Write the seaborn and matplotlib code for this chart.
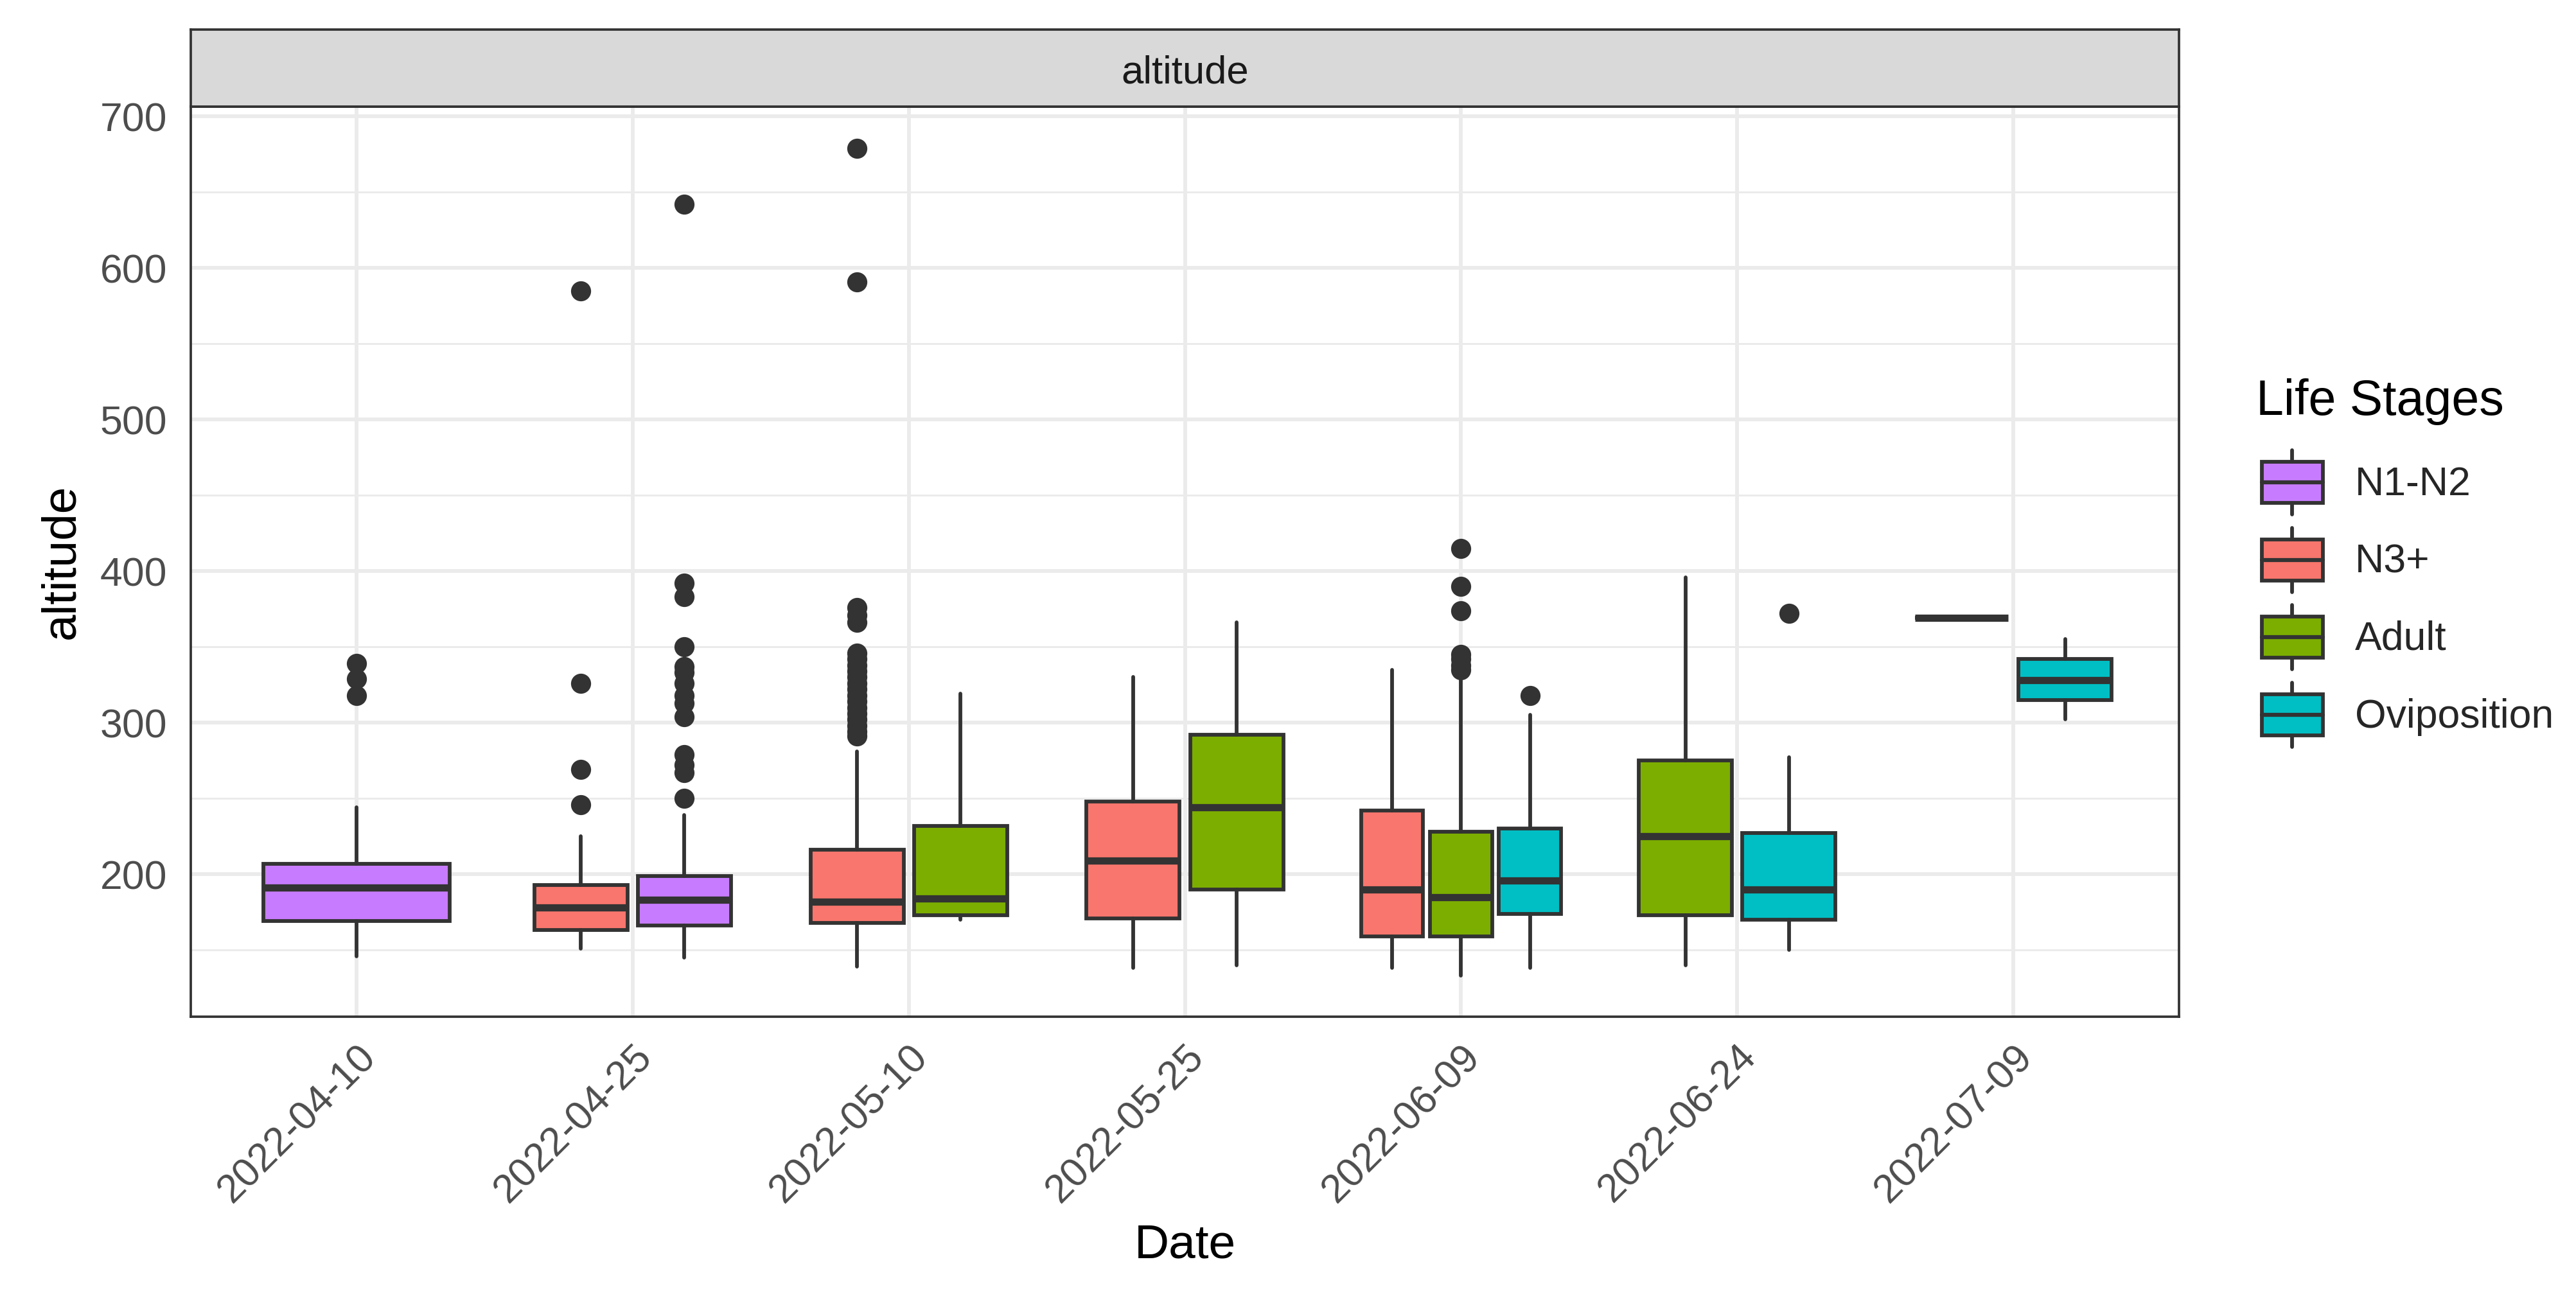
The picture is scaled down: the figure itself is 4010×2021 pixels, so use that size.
import numpy as np
import pandas as pd
import matplotlib
matplotlib.use("Agg")
import matplotlib.pyplot as plt
import matplotlib.dates as mdates
import seaborn as sns
from matplotlib.legend_handler import HandlerBase
from matplotlib.patches import Rectangle, Patch
from matplotlib.lines import Line2D

# box summaries (one entry per box, in left-to-right order)
box_date = ["2022-04-10", "2022-04-25", "2022-04-25", "2022-05-10", "2022-05-10",
            "2022-05-25", "2022-05-25", "2022-06-09", "2022-06-09", "2022-06-09",
            "2022-06-24", "2022-06-24", "2022-07-09", "2022-07-09"]
box_stage = ["N1-N2", "N3+", "N1-N2", "N3+", "Adult",
             "N3+", "Adult", "N3+", "Adult", "Oviposition",
             "Adult", "Oviposition", "Adult", "Oviposition"]
whisker_low = [146, 151, 145, 139, 170, 138, 140, 138, 133, 138, 140, 150, 369, 302]
q1 = [169, 163, 166, 168, 173, 171, 190, 159, 159, 174, 173, 170, 369, 315]
median = [191, 178, 183, 182, 184, 209, 244, 190, 185, 196, 225, 190, 369, 328]
q3 = [207, 193, 199, 216, 232, 248, 292, 242, 228, 230, 275, 227, 369, 342]
whisker_high = [244, 225, 239, 281, 319, 330, 366, 335, 329, 305, 396, 277, 369, 355]
outliers = [
    [318, 329, 339],
    [246, 269, 326, 585],
    [250, 267, 272, 279, 304, 313, 318, 326, 333, 337, 350, 383, 392, 642],
    [291, 294, 298, 302, 306, 310, 314, 318, 322, 326, 330, 334, 338, 342, 346,
     366, 371, 376, 591, 679],
    [], [], [], [],
    [335, 338, 342, 345, 374, 390, 415],
    [318],
    [],
    [372],
    [], [],
]

stage_order = ["N1-N2", "N3+", "Adult", "Oviposition"]
stage_colors = dict(zip(stage_order, sns.color_palette(["#C77CFF", "#F8766D", "#7CAE00", "#00BFC4"])))
tick_dates = ["2022-04-10", "2022-04-25", "2022-05-10", "2022-05-25",
              "2022-06-09", "2022-06-24", "2022-07-09"]

sns.set_theme(style="white")
plt.rcParams['font.family'] = ['Liberation Sans', 'DejaVu Sans']

dark = "#333333"
lw = 1.4

df = pd.DataFrame({"date": pd.to_datetime(box_date), "stage": box_stage})
df["n"] = df.groupby("date")["stage"].transform("count")
df["slot"] = df.groupby("date").cumcount()
group_w = 11.25  # days
df["pos"] = mdates.date2num(df["date"]) + (df["slot"] - (df["n"] - 1) / 2) * group_w / df["n"]
df["width"] = group_w / df["n"] * 0.9

stats = []
for i in range(len(df)):
    stats.append(dict(whislo=whisker_low[i], q1=q1[i], med=median[i], q3=q3[i],
                      whishi=whisker_high[i], fliers=outliers[i]))

W, H = 4011, 2021
fig = plt.figure(figsize=(W / 300, H / 300), dpi=300)
ax = fig.add_axes([297 / W, (H - 1583) / H, (3392 - 297) / W, (1583 - 166) / H])

bp = ax.bxp(stats, positions=df["pos"].tolist(), widths=df["width"].tolist(),
            patch_artist=True, showcaps=False, manage_ticks=False,
            boxprops=dict(edgecolor=dark, linewidth=lw),
            whiskerprops=dict(color=dark, linewidth=lw),
            medianprops=dict(color=dark, linewidth=2.7, solid_capstyle="butt"),
            flierprops=dict(marker="o", markerfacecolor=dark, markeredgecolor=dark,
                            markersize=7, markeredgewidth=0.5, linestyle="none"))
for patch, st in zip(bp["boxes"], df["stage"]):
    patch.set_facecolor(stage_colors[st])

x0 = mdates.date2num(pd.Timestamp("2022-04-10"))
ax.set_xlim(x0 - 9.0, x0 + 99.0)
ax.set_ylim(106, 706.5)

ticks = mdates.date2num(pd.to_datetime(tick_dates))
ax.set_xticks(ticks)
ax.set_xticklabels(tick_dates, rotation=45, ha="right", va="top", rotation_mode="anchor")
ax.set_yticks([200, 300, 400, 500, 600, 700])
ax.set_yticks([150, 250, 350, 450, 550, 650], minor=True)

ax.set_axisbelow(True)
ax.grid(True, which="major", color="#EBEBEB", linewidth=1.4)
ax.grid(True, which="minor", axis="y", color="#EBEBEB", linewidth=0.7)
ax.tick_params(axis="both", which="major", direction="out", length=4.3, width=1.2,
               color=dark, labelsize=15, labelcolor="#4D4D4D", pad=4.5)
ax.tick_params(axis="x", which="major", pad=3.5)
ax.tick_params(axis="both", which="minor", length=0)
for sp in ax.spines.values():
    sp.set_color(dark)
    sp.set_linewidth(0.9)

ax.set_xlabel("Date", fontsize=18, color="black", va="center")
ax.xaxis.set_label_coords(0.5, (1583 - 1939) / 1417)
ax.set_ylabel("altitude", fontsize=18, color="black", va="center")
ax.yaxis.set_label_coords((96 - 297) / 3095, 0.5)

# facet strip
sax = fig.add_axes([297 / W, (H - 166) / H, (3392 - 297) / W, (166 - 46) / H])
sax.set_facecolor("#D9D9D9")
sax.set_xticks([])
sax.set_yticks([])
for sp in sax.spines.values():
    sp.set_color(dark)
    sp.set_linewidth(0.9)
sax.text(0.5, 0.43, "altitude", ha="center", va="center", fontsize=14.8,
         color="#1A1A1A", transform=sax.transAxes)


class BoxKeyHandler(HandlerBase):
    def create_artists(self, legend, orig_handle, xdescent, ydescent, width, height,
                       fontsize, trans):
        bh = height * 0.64
        left = -xdescent
        bottom = -ydescent
        yb = bottom + (height - bh) / 2
        xm = left + width / 2
        rect = Rectangle((left, yb), width, bh, facecolor=orig_handle.get_facecolor(),
                         edgecolor=dark, linewidth=lw, transform=trans)
        w_lo = Line2D([xm, xm], [bottom, yb], color=dark, linewidth=lw, transform=trans)
        w_hi = Line2D([xm, xm], [yb + bh, bottom + height], color=dark, linewidth=lw,
                      transform=trans)
        med = Line2D([left, left + width], [yb + bh / 2] * 2, color=dark, linewidth=1.5,
                     transform=trans)
        return [w_lo, w_hi, rect, med]


handles = [Patch(facecolor=stage_colors[s]) for s in stage_order]
fig.legend(handles, stage_order, loc="upper left", bbox_to_anchor=(3521 / W, 1 - 701 / H),
           frameon=False, fontsize=15, borderpad=0, borderaxespad=0,
           handlelength=1.52, handleheight=2.085, labelspacing=0.33, handletextpad=0.8,
           handler_map={Patch: BoxKeyHandler()})
fig.text(3512 / W, 1 - 646 / H, "Life Stages", fontsize=18.5, ha="left", va="baseline",
         color="black")

fig.savefig("out.png", dpi=300, facecolor="white")
